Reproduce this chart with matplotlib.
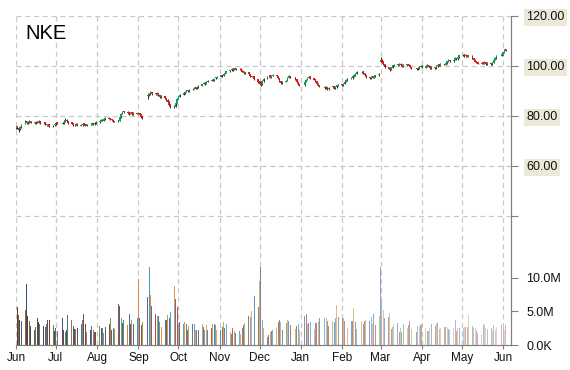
import numpy as np
import pandas as pd
import matplotlib
matplotlib.use('Agg')
import matplotlib.pyplot as plt
import matplotlib.dates as mdates
from matplotlib.colors import to_rgb

# ---------------- data ----------------
ticker = "NKE"
holidays = ['2015-07-03', '2015-09-07', '2015-11-26', '2015-12-25', '2016-01-01',
            '2016-01-18', '2016-02-15', '2016-03-25', '2016-05-30']
dates = pd.bdate_range('2015-06-01', '2016-06-03', freq='C', holidays=holidays)

open_ = [
    75.4, 75.9, 75.1, 74.7, 75.6,
    77.0, 77.9, 77.2, 77.5, 78.0,
    77.5, 77.1, 77.8, 77.4, 78.0,
    77.2, 77.5, 76.9, 76.2, 76.7,
    75.9, 76.3, 76.7, 77.4,
    76.9, 77.3, 77.7, 78.6, 78.1,
    77.4, 77.1, 76.3, 76.5, 77.0,
    76.2, 76.4, 77.0, 76.7, 76.1,
    76.9, 76.6, 77.2, 76.7, 77.2,
    77.5, 78.1, 78.6, 78.2, 78.8,
    79.3, 79.1, 78.7, 78.4, 78.0,
    77.9, 78.2, 79.6, 80.9, 81.9,
    81.7, 81.4, 80.9, 81.5, 80.8,
    81.3, 80.9, 81.2, 80.7, 79.9,
    88.0, 88.4, 88.8, 89.5,
    89.1, 88.6, 89.3, 88.5, 87.5,
    88.0, 87.3, 86.6, 85.9, 84.7,
    84.1, 83.7, 85.0, 86.9, 87.8,
    88.6, 89.1, 89.7, 90.4, 89.9,
    90.7, 90.9, 91.4, 91.1, 91.5,
    92.2, 92.9, 93.3, 93.0, 93.7,
    94.2, 94.6, 94.3, 95.1, 95.3,
    95.8, 96.3, 96.1, 96.9, 97.3,
    98.0, 98.4, 98.9, 98.6, 99.1,
    98.7, 99.0, 98.5, 97.9, 97.1,
    97.4, 96.9, 96.1, 95.9,
    94.8, 93.9, 93.1, 92.7, 94.0,
    95.1, 95.9, 96.3, 95.4, 96.1,
    96.5, 96.0, 95.3, 94.1, 93.1,
    93.7, 94.1, 95.4, 96.1,
    95.5, 94.9, 93.6, 92.9,
    92.3, 93.7, 94.5, 95.3, 95.9,
    95.2, 94.7, 93.9, 93.0, 92.4,
    91.7, 91.1, 91.7, 90.7,
    91.5, 92.0, 91.2, 91.6, 92.1,
    92.7, 92.3, 92.9, 93.7, 94.4,
    95.0, 95.2, 95.8, 96.4, 96.9,
    97.5, 97.9, 97.3, 96.5,
    95.7, 95.2, 95.9, 95.3, 95.9,
    96.4, 101.8, 102.5, 102.0, 100.9,
    99.7, 99.1, 98.5, 99.3, 100.1,
    100.7, 100.2, 101.0, 100.6, 99.7,
    100.3, 100.8, 100.3, 99.7,
    99.3, 98.8, 99.2, 99.7, 100.2,
    99.4, 99.8, 100.5, 99.9, 99.1,
    99.7, 99.2, 99.9, 100.7, 100.2,
    100.9, 100.5, 101.1, 101.8, 102.5,
    101.9, 102.5, 103.3, 102.7, 103.5,
    104.3, 104.7, 103.9, 104.5, 103.7,
    104.2, 103.3, 102.6, 101.9, 101.5,
    100.9, 101.4, 100.9, 101.7, 100.8,
    101.3, 100.7, 101.4, 102.5, 103.2,
    104.1, 104.6, 105.3, 106.7,
]
high = [
    76.2, 76.0, 75.3, 75.9, 76.8,
    78.4, 78.1, 77.9, 78.3, 78.2,
    77.7, 77.9, 78.0, 78.4, 78.1,
    77.8, 77.6, 77.0, 76.9, 76.8,
    76.5, 77.0, 77.6, 77.5,
    77.5, 78.1, 79.2, 78.8, 78.2,
    77.6, 77.2, 76.9, 77.2, 77.1,
    76.8, 77.2, 77.1, 76.8, 77.0,
    77.0, 77.4, 77.3, 77.6, 77.9,
    78.3, 78.8, 78.7, 79.2, 79.6,
    79.5, 79.2, 78.8, 78.5, 78.2,
    78.6, 79.8, 81.2, 82.2, 82.0,
    81.9, 81.6, 81.7, 81.6, 81.5,
    81.4, 81.6, 81.3, 80.8, 80.0,
    89.2, 89.3, 89.9, 89.6,
    89.3, 89.6, 89.4, 88.6, 88.3,
    88.1, 87.4, 86.8, 86.0, 84.9,
    84.3, 85.5, 87.1, 88.2, 88.8,
    89.5, 90.0, 90.6, 90.5, 90.9,
    91.1, 91.6, 91.5, 91.9, 92.4,
    93.0, 93.5, 93.4, 93.9, 94.4,
    94.8, 94.7, 95.2, 95.7, 96.0,
    96.5, 96.4, 97.0, 97.7, 98.2,
    98.6, 99.1, 99.0, 99.4, 99.2,
    99.2, 99.1, 98.6, 98.0, 97.8,
    97.5, 97.0, 96.2, 96.0,
    95.0, 94.0, 93.3, 94.4, 95.3,
    96.1, 96.5, 96.4, 96.3, 96.7,
    96.6, 96.1, 95.4, 94.2, 93.9,
    94.5, 95.6, 96.3, 96.2,
    95.6, 95.0, 93.7, 93.0,
    94.1, 94.9, 95.5, 96.1, 96.0,
    95.3, 94.8, 94.0, 93.1, 92.5,
    91.9, 91.9, 91.8, 91.7,
    92.2, 92.1, 92.0, 92.5, 92.9,
    92.8, 93.3, 94.1, 94.8, 95.4,
    95.6, 96.2, 96.8, 97.3, 97.9,
    98.1, 98.0, 97.4, 96.6,
    95.8, 96.1, 96.0, 96.3, 96.6,
    97.1, 103.6, 102.7, 102.1, 101.0,
    99.8, 99.2, 99.7, 100.5, 100.9,
    100.8, 101.2, 101.1, 100.7, 100.7,
    101.0, 100.9, 100.4, 99.8,
    99.4, 99.6, 100.1, 100.4, 100.3,
    100.2, 100.7, 100.6, 100.0, 99.9,
    99.8, 100.3, 100.9, 100.8, 101.1,
    101.0, 101.5, 102.2, 102.7, 102.6,
    102.9, 103.5, 103.4, 103.9, 104.5,
    104.9, 104.8, 104.7, 104.6, 104.6,
    104.3, 103.4, 102.7, 102.0, 101.6,
    101.6, 101.5, 101.9, 101.8, 101.5,
    101.4, 101.8, 102.9, 103.6, 104.3,
    105.0, 105.7, 106.9, 106.8,
]
low = [
    75.0, 74.9, 73.8, 74.4, 75.3,
    76.8, 77.0, 76.9, 77.2, 77.1,
    76.9, 76.8, 77.2, 77.2, 77.0,
    77.0, 76.5, 75.9, 76.0, 75.7,
    75.6, 76.1, 76.5, 76.7,
    76.7, 77.0, 77.5, 77.8, 77.0,
    76.7, 76.1, 76.1, 76.3, 76.0,
    76.0, 76.2, 76.3, 75.9, 76.0,
    76.4, 76.5, 76.6, 76.6, 77.0,
    77.4, 77.9, 78.0, 78.1, 78.6,
    78.7, 78.3, 78.0, 77.8, 77.5,
    77.7, 78.0, 79.4, 80.7, 81.2,
    81.0, 80.6, 80.8, 80.6, 80.6,
    80.7, 80.8, 80.3, 79.4, 78.9,
    87.0, 88.1, 88.6, 88.6,
    88.4, 88.5, 88.0, 87.2, 87.3,
    86.9, 86.1, 85.4, 84.2, 83.2,
    83.3, 83.5, 84.9, 86.7, 87.6,
    88.4, 88.9, 89.5, 89.7, 89.8,
    90.5, 90.7, 90.7, 90.9, 91.4,
    92.0, 92.7, 92.6, 92.9, 93.5,
    94.0, 93.9, 94.1, 94.9, 95.1,
    95.6, 95.7, 95.9, 96.7, 97.1,
    97.8, 98.2, 98.2, 98.4, 98.3,
    98.5, 98.1, 97.5, 96.9, 96.9,
    96.5, 95.7, 95.5, 94.6,
    93.4, 92.6, 92.0, 92.5, 93.8,
    94.9, 95.7, 95.2, 95.3, 95.9,
    95.6, 94.9, 93.7, 92.9, 92.9,
    93.5, 94.0, 95.2, 95.3,
    94.5, 93.2, 92.5, 92.1,
    92.0, 93.5, 94.3, 95.1, 95.0,
    94.3, 93.5, 92.6, 92.0, 91.5,
    90.8, 90.9, 90.5, 90.5,
    91.3, 91.0, 91.0, 91.4, 91.9,
    92.1, 92.1, 92.8, 93.5, 94.2,
    94.8, 95.0, 95.6, 96.2, 96.7,
    97.3, 96.9, 96.1, 95.3,
    94.9, 95.0, 95.1, 95.1, 95.7,
    96.2, 101.5, 101.6, 100.5, 99.2,
    98.7, 98.0, 98.3, 99.1, 99.9,
    100.0, 100.0, 100.2, 99.5, 99.5,
    100.1, 99.9, 99.3, 98.9,
    98.5, 98.6, 99.0, 99.5, 99.2,
    99.2, 99.6, 99.5, 98.9, 98.9,
    99.0, 99.0, 99.7, 100.0, 100.0,
    100.3, 100.3, 100.9, 101.6, 101.7,
    101.7, 102.3, 102.5, 102.5, 103.3,
    104.1, 103.7, 103.7, 103.5, 103.5,
    102.9, 102.2, 101.5, 101.1, 100.7,
    100.7, 100.7, 100.7, 100.6, 100.6,
    100.5, 100.5, 101.2, 102.3, 103.0,
    103.9, 104.4, 105.1, 105.9,
]
close = [
    75.8, 75.2, 74.6, 75.5, 76.5,
    77.8, 77.3, 77.6, 77.9, 77.4,
    77.2, 77.7, 77.5, 77.9, 77.3,
    77.4, 76.8, 76.3, 76.6, 76.0,
    76.2, 76.8, 77.3, 77.0,
    77.2, 77.8, 78.5, 78.0, 77.3,
    77.0, 76.4, 76.6, 76.9, 76.3,
    76.5, 76.9, 76.6, 76.2, 76.8,
    76.7, 77.1, 76.8, 77.3, 77.6,
    78.0, 78.5, 78.3, 78.9, 79.2,
    79.0, 78.6, 78.3, 78.1, 77.8,
    78.3, 79.5, 80.8, 81.8, 81.6,
    81.3, 81.0, 81.4, 80.9, 81.2,
    81.0, 81.3, 80.6, 79.8, 79.3,
    88.5, 88.9, 89.4, 89.0,
    88.7, 89.2, 88.4, 87.6, 87.9,
    87.2, 86.5, 85.8, 84.6, 84.0,
    83.8, 85.2, 86.8, 87.9, 88.5,
    89.2, 89.8, 90.3, 90.0, 90.6,
    90.8, 91.3, 91.0, 91.6, 92.1,
    92.8, 93.2, 92.9, 93.6, 94.1,
    94.5, 94.2, 95.0, 95.4, 95.7,
    96.2, 96.0, 96.8, 97.4, 97.9,
    98.3, 98.8, 98.5, 99.0, 98.6,
    98.9, 98.4, 97.8, 97.2, 97.5,
    96.8, 96.0, 95.8, 94.9,
    93.8, 93.0, 92.6, 94.1, 95.0,
    95.8, 96.2, 95.5, 96.0, 96.4,
    95.9, 95.2, 94.0, 93.2, 93.6,
    94.2, 95.3, 96.0, 95.6,
    94.8, 93.5, 92.8, 92.4,
    93.8, 94.6, 95.2, 95.8, 95.3,
    94.6, 93.8, 92.9, 92.3, 91.8,
    91.2, 91.6, 90.8, 91.4,
    91.9, 91.3, 91.7, 92.2, 92.6,
    92.4, 93.0, 93.8, 94.5, 95.1,
    95.3, 95.9, 96.5, 97.0, 97.6,
    97.8, 97.2, 96.4, 95.6,
    95.3, 95.8, 95.4, 96.0, 96.3,
    96.8, 102.6, 101.9, 100.8, 99.6,
    99.0, 98.6, 99.4, 100.2, 100.6,
    100.3, 100.9, 100.5, 99.8, 100.4,
    100.7, 100.2, 99.6, 99.2,
    98.9, 99.3, 99.8, 100.1, 99.5,
    99.9, 100.4, 99.8, 99.2, 99.6,
    99.3, 100.0, 100.6, 100.3, 100.8,
    100.6, 101.2, 101.9, 102.4, 102.0,
    102.6, 103.2, 102.8, 103.6, 104.2,
    104.6, 104.0, 104.4, 103.8, 104.3,
    103.2, 102.5, 101.8, 101.4, 101.0,
    101.3, 101.0, 101.6, 100.9, 101.2,
    100.8, 101.5, 102.6, 103.3, 104.0,
    104.7, 105.4, 106.6, 106.2,
]
volume_m = [
    2.5, 5.7, 4.5, 3.7, 3.6,
    5.2, 9.1, 4.3, 3.6, 2.8,
    2.2, 2.7, 4.0, 3.5, 3.1,
    2.9, 2.7, 3.2, 3.7, 3.7,
    3.0, 2.1, 2.5, 2.1,
    4.0, 2.2, 2.0, 2.3, 4.5,
    3.8, 2.8, 2.4, 2.4, 2.5,
    3.2, 3.8, 4.6, 3.1, 2.0,
    2.2, 2.9, 2.2, 2.0, 2.0,
    2.9, 2.5, 2.5, 1.8, 2.7,
    3.1, 4.0, 2.2, 2.6, 2.4,
    6.1, 5.8, 4.0, 3.3, 3.7,
    3.0, 4.6, 3.2, 3.7, 3.1,
    4.0, 9.9, 4.0, 3.0, 3.4,
    7.1, 11.6, 7.5, 5.8,
    4.7, 4.3, 4.3, 3.4, 2.7,
    3.7, 3.7, 4.5, 4.1, 4.9,
    8.8, 6.9, 5.7, 3.2, 3.5,
    3.2, 3.5, 3.1, 2.3, 2.8,
    3.1, 3.2, 2.3, 2.3, 2.2,
    3.2, 2.7, 2.3, 3.0, 2.2,
    2.6, 3.1, 3.1, 3.0, 2.3,
    2.3, 2.7, 3.4, 2.5, 3.1,
    1.9, 1.7, 2.5, 2.1, 1.8,
    2.1, 1.6, 2.5, 3.0, 3.3,
    4.3, 4.2, 5.1, 7.3,
    5.7, 9.6, 11.6, 3.8, 2.6,
    1.2, 1.5, 2.0, 2.1, 2.3,
    2.5, 3.4, 3.7, 3.5, 2.3,
    3.3, 3.7, 3.6, 3.0,
    2.4, 2.9, 3.2, 2.2,
    4.3, 4.6, 3.1, 3.3, 3.5,
    2.4, 3.3, 3.3, 3.5, 4.1,
    4.1, 4.1, 3.6, 2.9,
    3.6, 3.5, 4.0, 6.0, 4.2,
    4.0, 4.0, 3.6, 2.3, 2.6,
    3.6, 3.6, 5.5, 3.4, 2.4,
    3.6, 3.1, 3.6, 3.7,
    3.6, 4.2, 3.2, 4.6, 3.0,
    4.4, 11.6, 6.7, 5.2, 4.0,
    4.2, 4.8, 2.4, 2.7, 3.2,
    3.3, 2.0, 2.6, 1.9, 3.2,
    2.6, 3.0, 3.6, 2.4,
    2.0, 2.9, 2.8, 3.0, 3.2,
    2.5, 2.1, 2.1, 2.5, 3.1,
    2.8, 3.3, 3.3, 2.4, 2.6,
    2.7, 2.7, 2.7, 2.4, 2.3,
    2.6, 3.8, 2.1, 2.6, 2.6,
    2.5, 2.7, 2.7, 2.7, 4.5,
    2.8, 2.5, 2.6, 2.2, 1.8,
    1.7, 3.1, 3.0, 2.6, 2.4,
    2.6, 2.1, 3.0, 2.2, 2.7,
    3.0, 2.5, 2.2, 3.0,
]

price_ticks = [40, 60, 80, 100, 120]
price_labels = ['', '60.00', '80.00', '100.00', '120.00']
volume_ticks = [0, 5e6, 10e6]
volume_labels = ['0.0K', '5.0M', '10.0M']

# ---------------- plotting ----------------
n = min(len(dates), len(open_), len(high), len(low), len(close), len(volume_m))
x = mdates.date2num(dates[:n].to_pydatetime())
o = np.array(open_[:n]); h = np.array(high[:n]); l = np.array(low[:n]); c = np.array(close[:n])
v = np.array(volume_m[:n]) * 1e6

plt.rcParams['font.family'] = ['Liberation Sans', 'DejaVu Sans']
fig = plt.figure(figsize=(5.7, 3.7), dpi=100)
ax = fig.add_axes([16 / 570, 25 / 370, 495 / 570, 329 / 370])
ax2 = ax.twinx()

up_col = '#00A651'
dn_col = '#EE1111'
up = c >= o
ax.vlines(x, l, h, color='#111111', linewidth=0.6, zorder=3)
ax.bar(x[up], (c - o)[up], bottom=o[up], width=1.2, color=up_col, linewidth=0, zorder=4)
ax.bar(x[~up], (o - c)[~up], bottom=c[~up], width=1.2, color=dn_col, linewidth=0, zorder=4)

# volume bars, palette cycling, darker at left and fading to pastel at right
base = ['#4F81BD', '#C0504D', '#9BBB59', '#8064A2', '#4BACC6', '#F79646']
cols = []
for i in range(n):
    t = i / (n - 1)
    col = np.array(to_rgb(base[i % len(base)]))
    if t < 0.35:
        k = (0.35 - t) / 0.35 * 0.4
        col = col * (1 - k)
    else:
        k = (t - 0.35) / 0.65 * 0.55
        col = col + (1 - col) * k
    cols.append(col)
ax2.bar(x, v, width=0.75, color=cols, linewidth=0, zorder=2)

ax.set_xlim(mdates.date2num(pd.Timestamp('2015-06-01')), mdates.date2num(pd.Timestamp('2016-06-07')))
ax.set_ylim(-11.6, 120)
ax2.set_ylim(0, 49.1e6)

ax.xaxis.set_major_locator(mdates.MonthLocator())
ax.xaxis.set_major_formatter(mdates.DateFormatter('%b'))
ax.tick_params(axis='x', length=3, color='#808080', labelsize=8.5, labelcolor='#111111', pad=2)

ax.yaxis.tick_right()
ax.set_yticks(price_ticks)
ax.set_yticklabels(price_labels)
ax.tick_params(axis='y', length=5, color='#808080', labelsize=9, labelcolor='#111111', pad=6)
for lab in ax.get_yticklabels():
    if lab.get_text():
        lab.set_bbox(dict(facecolor='#ECE9D8', edgecolor='none', pad=1.5))

ax2.set_yticks(volume_ticks)
ax2.set_yticklabels(volume_labels)
ax2.tick_params(axis='y', length=5, color='#808080', labelsize=9, labelcolor='#111111', pad=6)

ax.grid(True, linestyle=(0, (4, 3)), color='#C8C8C8', linewidth=0.9)
ax.set_axisbelow(True)
ax2.grid(False)

for a in (ax, ax2):
    a.spines['top'].set_visible(False)
    a.spines['left'].set_visible(False)
    a.spines['right'].set_color('#808080')
    a.spines['bottom'].set_color('#808080')
    a.set_facecolor('none')

ax.text(0.018, 0.975, ticker, transform=ax.transAxes, fontsize=14.5, va='top', ha='left',
        color='#000000', zorder=10)

fig.savefig('out.png', dpi=100)
